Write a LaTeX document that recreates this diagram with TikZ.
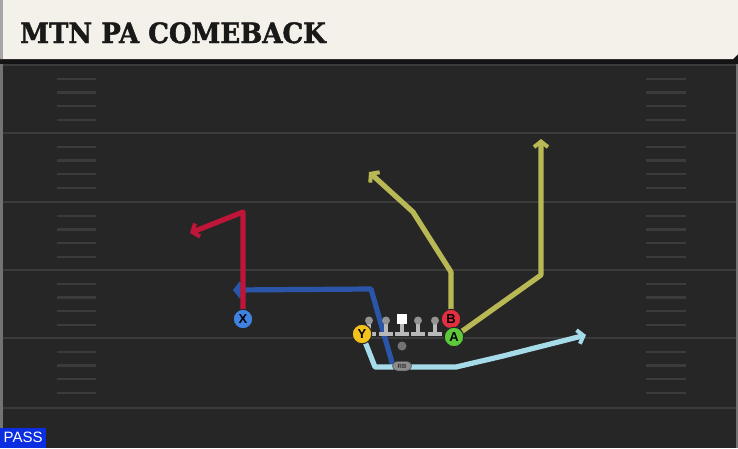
\documentclass[tikz,border=0pt]{standalone}
\usepackage{fontspec}
\usetikzlibrary{arrows.meta,shapes.misc}
\newfontfamily\titlefont{DejaVu Serif}[FakeStretch=0.93, BoldFeatures={FakeBold=1.6}]
\newfontfamily\plfont{Liberation Sans}
\definecolor{fieldbg}{HTML}{262626}
\definecolor{fieldline}{HTML}{3B3B3B}
\definecolor{cream}{HTML}{F4F1EA}
\definecolor{routered}{HTML}{BE1538}
\definecolor{routeblue}{HTML}{2B55A8}
\definecolor{routelight}{HTML}{A6DBEA}
\definecolor{routeolive}{HTML}{B8B955}
\definecolor{pX}{HTML}{3F82E2}
\definecolor{pY}{HTML}{F4C21C}
\definecolor{pB}{HTML}{E1303F}
\definecolor{pA}{HTML}{5CC83A}
\definecolor{passblue}{HTML}{0B2EE0}
\definecolor{olgray}{HTML}{B8B8B8}
\pgfdeclarelayer{field}
\pgfdeclarelayer{routes}
\pgfsetlayers{field,routes,main}
\tikzset{
  route/.style={line width=5.2pt, line join=round, line cap=butt,
    -{Straight Barb[length=5.5pt,width=14pt,line width=4pt]}},
  player/.style={circle, draw=black!85, line width=1pt, minimum size=19.5pt,
    inner sep=0pt, font=\plfont\bfseries\fontsize{13}{13}\selectfont, text=black},
  hashmark/.style={draw=fieldline, line width=2.4pt},
  yardline/.style={draw=fieldline, line width=2.8pt},
}
\begin{document}
\begin{tikzpicture}[x=1pt,y=-1pt]
\useasboundingbox (0,0) rectangle (738,448);
\begin{pgfonlayer}{field}
  \fill[fieldbg] (0,0) rectangle (738,448);
  % side edges
  \fill[black!55] (0,60) rectangle (2.5,448);
  \fill[black!55] (735.5,60) rectangle (738,448);
  % yard lines
  \foreach \y in {65,133,202,270,338,408}
    \draw[yardline] (2.5,\y) -- (735.5,\y);
  % hash marks
  \foreach \y in {65,133,202,270,338}
    \foreach \k in {1,2,3,4} {
      \draw[hashmark] (57,\y+\k*13.7) -- (96,\y+\k*13.7);
      \draw[hashmark] (646,\y+\k*13.7) -- (686,\y+\k*13.7);
    }
  % title bar
  \fill[black!92] (0,56) rectangle (738,64);
  \fill[cream] (0,0) -- (738,0) -- (738,54) -- (733,59) -- (0,59) -- cycle;
  \fill[black!35] (0,0) rectangle (2.5,59);
\end{pgfonlayer}
\node[anchor=base west, inner sep=0pt, text=black!90,
  font=\titlefont\bfseries\fontsize{28}{28}\selectfont] (title) at (20,43) {MTN PA COMEBACK};
% PASS label
\node[anchor=south west, fill=passblue, text=white, inner sep=0pt,
  minimum width=46pt, minimum height=20pt,
  font=\plfont\fontsize{15}{15}\selectfont] (pass) at (0,448) {PASS};
% linemen
\foreach \x/\n in {369/l1,386/l2,418/l4,435/l5} {
  \fill[olgray] (\x-7,332) rectangle (\x+7,336);
  \fill[olgray] (\x-2,322) rectangle (\x+2,333);
  \node[circle, fill=olgray!80!black, inner sep=0pt, minimum size=8pt] (\n) at (\x,320.5) {};
}
\fill[olgray] (402-7,332) rectangle (402+7,336);
\fill[olgray] (402-2,322) rectangle (402+2,333);
\node[fill=white, inner sep=0pt, minimum size=10pt] (C) at (402,318.5) {};
% QB
\node[circle, fill=black!55, inner sep=0pt, minimum size=9pt] (QB) at (402,346) {};
% RB
\node[rounded rectangle, fill=black!45, draw=black!70, line width=0.5pt,
  inner sep=0pt, minimum width=19pt, minimum height=9.5pt,
  font=\plfont\bfseries\fontsize{6}{6}\selectfont, text=black!80] (RB) at (402,366) {RB};
% players
\node[player, fill=pX] (X) at (243,319) {X};
\node[player, fill=pY] (Y) at (362,334) {Y};
\node[player, fill=pB] (B) at (451,319) {B};
\node[player, fill=pA] (A) at (454,337) {A};
% route points
\coordinate (x1) at (243,212);
\coordinate (x2) at (190,233);
\coordinate (r1) at (371,289);
\coordinate (r2) at (233,290);
\coordinate (y1) at (375,367);
\coordinate (y2) at (456,367);
\coordinate (y3) at (503,356);
\coordinate (y4) at (586,335);
\coordinate (b1) at (451,272);
\coordinate (b2) at (413,212);
\coordinate (b3) at (369,172);
\coordinate (a1) at (541,275);
\coordinate (a2) at (541,139);
\begin{pgfonlayer}{routes}
  \draw[route, routeblue] (393,366) -- (r1) -- (r2);
  \draw[route, routered] (X.center) -- (x1) -- (x2);
  \draw[route, routelight] (Y.center) -- (y1) -- (y2) -- (y3) -- (y4);
  \draw[route, routeolive] (B.center) -- (b1) -- (b2) -- (b3);
  \draw[route, routeolive] (A.center) -- (a1) -- (a2);
\end{pgfonlayer}
\end{tikzpicture}
\end{document}
